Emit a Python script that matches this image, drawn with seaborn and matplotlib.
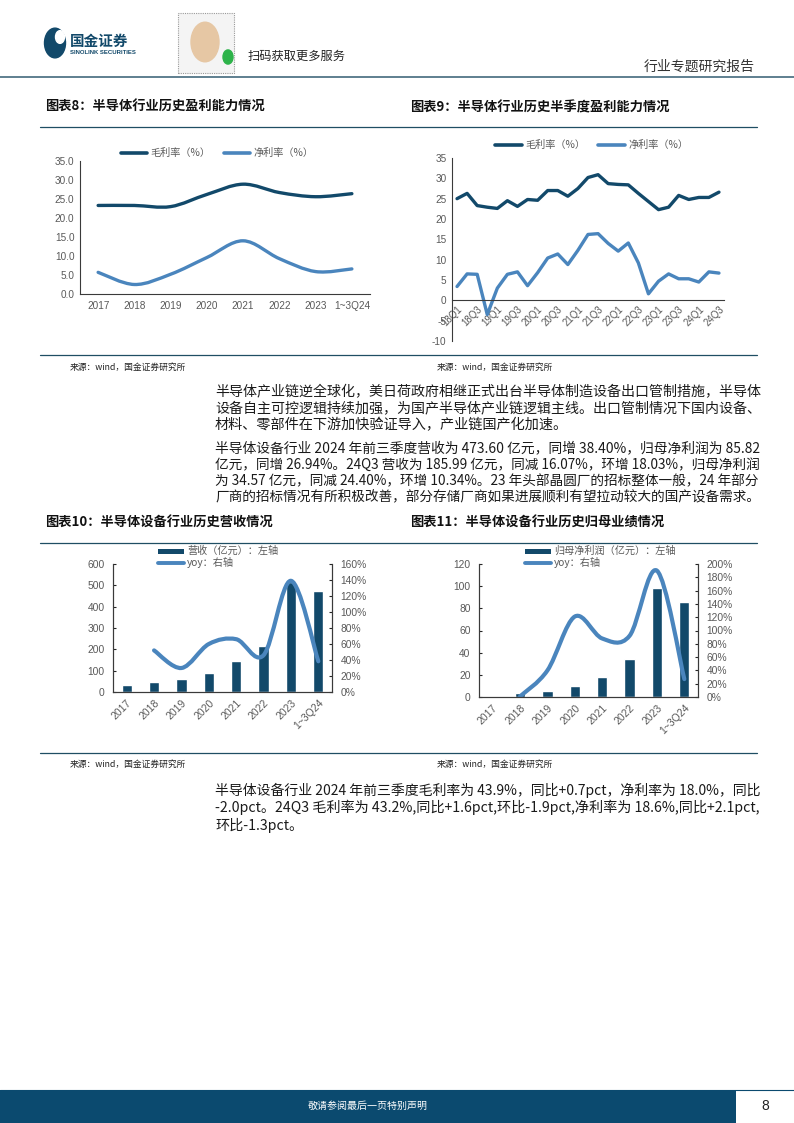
import matplotlib
matplotlib.use("Agg")
import matplotlib.pyplot as plt
import numpy as np
import pandas as pd
import seaborn as sns
from matplotlib.lines import Line2D
from matplotlib.patches import Rectangle, Circle, PathPatch
from matplotlib.path import Path
from matplotlib.ticker import FuncFormatter, MultipleLocator, FixedLocator

sns.set_theme(style="white")
plt.rcParams["font.family"] = ["Noto Sans CJK SC", "DejaVu Sans"]
plt.rcParams["axes.unicode_minus"] = False

W, H = 794, 1123
DARK = "#12496A"
LIGHT = "#4A85BD"
GREY = "#595959"
RULE = "#1F4E63"
TICK_FONT = ["Liberation Sans", "Noto Sans CJK SC"]

# ---- data ----
YEARS = ["2017", "2018", "2019", "2020", "2021", "2022", "2023", "1~3Q24"]
GROSS_Y = [23.3, 23.3, 23.0, 26.2, 28.9, 26.7, 25.6, 26.4]
NET_Y = [5.7, 2.5, 5.2, 9.6, 14.0, 9.3, 5.9, 6.6]

QUARTERS = ["18Q1", "18Q2", "18Q3", "18Q4", "19Q1", "19Q2", "19Q3", "19Q4",
            "20Q1", "20Q2", "20Q3", "20Q4", "21Q1", "21Q2", "21Q3", "21Q4",
            "22Q1", "22Q2", "22Q3", "22Q4", "23Q1", "23Q2", "23Q3", "23Q4",
            "24Q1", "24Q2", "24Q3"]
GROSS_Q = [25.0, 26.3, 23.3, 22.9, 22.6, 24.5, 23.1, 24.8, 24.6, 27.0, 27.0, 25.6,
           27.5, 30.2, 30.9, 28.7, 28.5, 28.4, 26.3, 24.3, 22.3, 22.9, 25.8, 24.8,
           25.3, 25.3, 26.6]
NET_Q = [3.4, 6.5, 6.4, -3.5, 3.0, 6.4, 7.0, 3.6, 6.8, 10.4, 11.4, 8.8,
         12.3, 16.2, 16.4, 14.0, 12.1, 14.1, 9.2, 1.6, 4.7, 6.5, 5.3, 5.3,
         4.5, 7.0, 6.7]

REVENUE = [33, 45, 60, 88, 144, 215, 517, 473.6]
REVENUE_YOY = [np.nan, 52, 30, 60, 66, 46, 139, 38.4]
PROFIT = [np.nan, 3.3, 5.1, 10, 18, 34, 98, 85.82]
PROFIT_YOY = [np.nan, 1, 40, 121, 88, 92, 190, 26.94]

P1 = ["半导体产业链逆全球化，美日荷政府相继正式出台半导体制造设备出口管制措施，半导体",
      "设备自主可控逻辑持续加强，为国产半导体产业链逻辑主线。出口管制情况下国内设备、",
      "材料、零部件在下游加快验证导入，产业链国产化加速。"]
P2 = ["半导体设备行业 2024 年前三季度营收为 473.60 亿元，同增 38.40%，归母净利润为 85.82",
      "亿元，同增 26.94%。24Q3 营收为 185.99 亿元，同减 16.07%，环增 18.03%，归母净利润",
      "为 34.57 亿元，同减 24.40%，环增 10.34%。23 年头部晶圆厂的招标整体一般，24 年部分",
      "厂商的招标情况有所积极改善，部分存储厂商如果进展顺利有望拉动较大的国产设备需求。"]
P3 = ["半导体设备行业 2024 年前三季度毛利率为 43.9%，同比+0.7pct，净利率为 18.0%，同比",
      "-2.0pct。24Q3 毛利率为 43.2%,同比+1.6pct,环比-1.9pct,净利率为 18.6%,同比+2.1pct,",
      "环比-1.3pct。"]

fig = plt.figure(figsize=(W / 100, H / 100), dpi=100)
renderer = fig.canvas.get_renderer()


def fx(x):
    return x / W


def fy(y):
    return 1 - y / H


def px_axes(l, t, r, b):
    return fig.add_axes([fx(l), fy(b), (r - l) / W, (b - t) / H])


def ftext(x, y, s, **kw):
    kw.setdefault("va", "center")
    return fig.text(fx(x), fy(y), s, **kw)


def hline(x0, x1, y, **kw):
    fig.add_artist(Line2D([fx(x0), fx(x1)], [fy(y), fy(y)], transform=fig.transFigure, **kw))


def smooth(ax, xs, ys, **kw):
    # Excel-like smoothed line through the data points (Bezier segments)
    pts = np.column_stack([xs, ys]).astype(float)
    n = len(pts)
    verts, codes = [pts[0]], [Path.MOVETO]
    for i in range(n - 1):
        p0, p1 = pts[max(i - 1, 0)], pts[i]
        p2, p3 = pts[i + 1], pts[min(i + 2, n - 1)]
        verts += [p1 + (p2 - p0) / 6, p2 - (p3 - p1) / 6, p2]
        codes += [Path.CURVE4] * 3
    ax.add_patch(PathPatch(Path(verts, codes), fill=False, capstyle="round",
                           joinstyle="round", **kw))


def legend_line(x0, x1, y, text, color, lw=2.6):
    hline(x0, x1, y, color=color, lw=lw)
    ftext(x1 + 3, y, text, fontsize=7.3, color=GREY)


def legend_bar(x0, x1, y, text, color):
    fig.add_artist(Rectangle((fx(x0), fy(y + 2.5)), (x1 - x0) / W, 5 / H,
                             transform=fig.transFigure, color=color, lw=0))
    ftext(x1 + 3, y, text, fontsize=7.3, color=GREY)


def style_ticks(ax):
    for lab in ax.get_xticklabels() + ax.get_yticklabels():
        lab.set_family(TICK_FONT)
        lab.set_color(GREY)
    for s in ax.spines.values():
        s.set_color("#3a3a3a")
        s.set_linewidth(0.8)


def paragraph(lines, x, y0, step, width=545, size=10.2):
    # shrink over-long lines so they end at the right margin like the justified source
    for i, line in enumerate(lines):
        t = ftext(x, y0 + i * step, line, fontsize=size, color="#1a1a1a")
        w = t.get_window_extent(renderer).width
        if w > width:
            t.set_fontsize(size * width / w)


# ---- header ----
fig.add_artist(Circle((fx(55), fy(43)), 10.5 / W, transform=fig.transFigure, color=DARK))
fig.add_artist(Circle((fx(60), fy(37)), 4.5 / W, transform=fig.transFigure, color="white"))
ftext(70, 41, "国金证券", fontsize=10.5, fontweight="bold", color=DARK)
ftext(70, 52, "SINOLINK SECURITIES", fontsize=4.3, fontweight="bold", color=DARK,
      family=TICK_FONT)
fig.add_artist(Rectangle((fx(178), fy(73)), 56 / W, 60 / H, transform=fig.transFigure,
                         facecolor="#f4f4f4", edgecolor="#9a9a9a", lw=0.8, ls=(0, (1, 1))))
fig.add_artist(Circle((fx(205), fy(42)), 14 / W, transform=fig.transFigure, color="#E6C7A4"))
fig.add_artist(Circle((fx(228), fy(57)), 5 / W, transform=fig.transFigure, color="#2DB34A"))
ftext(248, 56, "扫码获取更多服务", fontsize=8.8, color="#222222")
ftext(755, 67, "行业专题研究报告", fontsize=10, color="#333333", ha="right")
hline(0, 794, 77, color="#5E7F8F", lw=1.4)

# ---- titles / rules ----
ftext(45, 107, "图表8：半导体行业历史盈利能力情况", fontsize=9.5, fontweight="bold",
      style="italic", color="#111111")
ftext(410, 107, "图表9：半导体行业历史半季度盈利能力情况", fontsize=9.5, fontweight="bold",
      style="italic", color="#111111")
hline(40, 757, 127, color=RULE, lw=0.9)
hline(40, 757, 355, color=RULE, lw=0.9)
ftext(70, 367, "来源：wind，国金证券研究所", fontsize=6.3, color="#222222")
ftext(437, 367, "来源：wind，国金证券研究所", fontsize=6.3, color="#222222")

ftext(45, 523, "图表10：半导体设备行业历史营收情况", fontsize=9.5, fontweight="bold",
      style="italic", color="#111111")
ftext(410, 523, "图表11：半导体设备行业历史归母业绩情况", fontsize=9.5, fontweight="bold",
      style="italic", color="#111111")
hline(40, 757, 543, color=RULE, lw=0.9)
hline(40, 757, 753, color=RULE, lw=0.9)
ftext(70, 764, "来源：wind，国金证券研究所", fontsize=6.3, color="#222222")
ftext(437, 764, "来源：wind，国金证券研究所", fontsize=6.3, color="#222222")

# ---- body text ----
paragraph(P1, 215, 392, 16.3)
paragraph(P2, 215, 448.5, 16.2)
paragraph(P3, 215, 790, 17.5)

# ---- chart 8: yearly margins (smoothed) ----
ax8 = px_axes(80, 161, 370, 294)
xpos = np.arange(len(YEARS))
smooth(ax8, xpos, GROSS_Y, color=DARK, lw=2.4)
smooth(ax8, xpos, NET_Y, color=LIGHT, lw=2.4)
ax8.set_xlim(-0.5, len(YEARS) - 0.5)
ax8.set_ylim(0, 35)
ax8.yaxis.set_major_locator(MultipleLocator(5))
ax8.yaxis.set_major_formatter(FuncFormatter(lambda v, _: f"{v:.1f}"))
ax8.set_xticks(xpos)
ax8.set_xticklabels(YEARS)
ax8.xaxis.set_minor_locator(FixedLocator(np.arange(-0.5, len(YEARS), 1)))
ax8.tick_params(axis="x", which="major", length=0, labelsize=7.2, pad=5)
ax8.tick_params(axis="x", which="minor", length=3, direction="out", width=0.8)
ax8.tick_params(axis="y", length=2.5, direction="in", labelsize=7.2, pad=4, width=0.8)
ax8.spines[["top", "right"]].set_visible(False)
ax8.set_xlabel("")
ax8.set_ylabel("")
style_ticks(ax8)
legend_line(121, 147, 153, "毛利率（%）", DARK)
legend_line(224, 250, 153, "净利率（%）", LIGHT)

# ---- chart 9: quarterly margins ----
ax9 = px_axes(452, 158, 724, 341)
ax9.spines["bottom"].set_position(("data", 0))
qdf = pd.DataFrame({"pos": np.arange(len(QUARTERS)), "gross": GROSS_Q, "net": NET_Q})
sns.lineplot(data=qdf, x="pos", y="gross", color=DARK, lw=2.4, ax=ax9)
sns.lineplot(data=qdf, x="pos", y="net", color=LIGHT, lw=2.4, ax=ax9)
ax9.set_xlim(-0.5, len(QUARTERS) - 0.5)
ax9.set_ylim(-10, 35)
ax9.yaxis.set_major_locator(MultipleLocator(5))
ax9.set_xticks(qdf["pos"][::2])
ax9.set_xticklabels(QUARTERS[::2], rotation=45, ha="right", va="top",
                    rotation_mode="anchor")
ax9.xaxis.set_minor_locator(FixedLocator(np.arange(-0.5, len(QUARTERS), 1)))
ax9.tick_params(axis="x", which="major", length=0, labelsize=7, pad=3)
ax9.tick_params(axis="x", which="minor", length=2.5, direction="in", width=0.8)
ax9.tick_params(axis="y", length=2.5, direction="in", labelsize=7.2, pad=4, width=0.8)
ax9.spines[["top", "right"]].set_visible(False)
ax9.set_xlabel("")
ax9.set_ylabel("")
style_ticks(ax9)
legend_line(495, 522, 145, "毛利率（%）", DARK)
legend_line(598, 625, 145, "净利率（%）", LIGHT)


def bar_line_chart(box, values, yoy, ymax, ystep, rmax, bar_lbl, lx):
    ax = px_axes(*box)
    df = pd.DataFrame({"year": YEARS, "val": values})
    sns.barplot(data=df, x="year", y="val", color=DARK, saturation=1, width=0.37,
                errorbar=None, ax=ax)
    ax.set_xlim(-0.5, len(YEARS) - 0.5)
    ax.set_ylim(0, ymax)
    ax.yaxis.set_major_locator(MultipleLocator(ystep))
    ax.set_xticks(np.arange(len(YEARS)))
    ax.set_xticklabels(YEARS, rotation=45, ha="right", va="top", rotation_mode="anchor")
    ax.xaxis.set_minor_locator(FixedLocator(np.arange(-0.5, len(YEARS), 1)))
    ax.tick_params(axis="x", which="major", length=0, labelsize=7.5, pad=4)
    ax.tick_params(axis="x", which="minor", length=2.5, direction="in", width=0.8)
    ax.tick_params(axis="y", length=2.5, direction="in", labelsize=7.4, pad=6, width=0.8)
    ax.set_xlabel("")
    ax.set_ylabel("")
    ax.spines["top"].set_visible(False)

    ax2 = ax.twinx()
    mask = ~np.isnan(np.array(yoy, dtype=float))
    smooth(ax2, np.arange(len(YEARS))[mask], np.array(yoy, dtype=float)[mask],
           color=LIGHT, lw=3.0)
    ax2.set_xlim(-0.5, len(YEARS) - 0.5)
    ax2.set_ylim(0, rmax)
    ax2.yaxis.set_major_locator(MultipleLocator(20))
    ax2.yaxis.set_major_formatter(FuncFormatter(lambda v, _: f"{v:.0f}%"))
    ax2.tick_params(axis="y", length=2.5, direction="in", labelsize=7.4, pad=6, width=0.8)
    ax2.spines["top"].set_visible(False)
    ax2.grid(False)
    style_ticks(ax)
    style_ticks(ax2)
    legend_bar(lx, lx + 26, 551, bar_lbl, DARK)
    legend_line(lx, lx + 26, 563, "yoy：右轴", LIGHT, lw=2.8)


bar_line_chart((113, 564, 332, 692), REVENUE, REVENUE_YOY, 600, 100, 160,
               "营收（亿元）：左轴", 158)
bar_line_chart((479, 564, 698, 697), PROFIT, PROFIT_YOY, 120, 20, 200,
               "归母净利润（亿元）：左轴", 525)

# ---- footer ----
fig.add_artist(Rectangle((0, 0), fx(736), 33 / H, transform=fig.transFigure,
                         color="#0B4A6F", lw=0))
hline(0, 794, 1090, color="#0B4A6F", lw=0.8)
ftext(368, 1106, "敬请参阅最后一页特别声明", fontsize=7.2, color="white", ha="center")
ftext(765, 1106, "8", fontsize=10, color="#222222", ha="center", family=TICK_FONT)

fig.savefig("out.png", dpi=100)
